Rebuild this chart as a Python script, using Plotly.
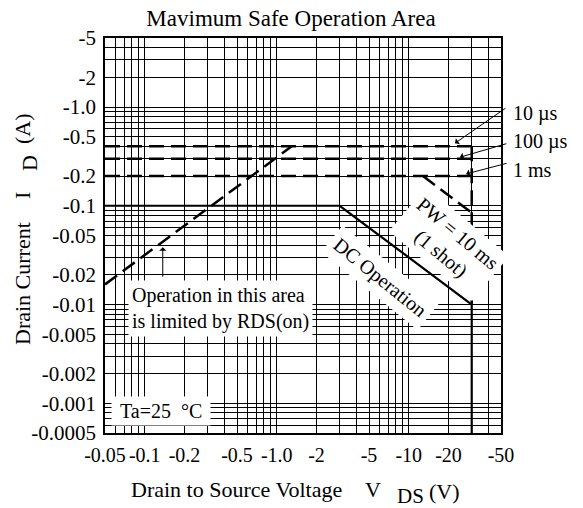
import numpy as np
import plotly.graph_objects as go

# ---- data ----
x_labels = ["-0.05", "-0.1", "-0.2", "-0.5", "-1.0", "-2", "-5", "-10", "-20", "-50"]
x_label_vals = [0.05, 0.1, 0.2, 0.5, 1.0, 2, 5, 10, 20, 50]
y_labels = ["-5", "-2", "-1.0", "-0.5", "-0.2", "-0.1", "-0.05", "-0.02", "-0.01",
            "-0.005", "-0.002", "-0.001", "-0.0005"]
y_label_vals = [5, 2, 1.0, 0.5, 0.2, 0.1, 0.05, 0.02, 0.01, 0.005, 0.002, 0.001, 0.0005]

dc_x = [0.05, 3.0, 30, 30]
dc_y = [0.1, 0.1, 0.01, 0.0005]

pulse_names = ["10 µs", "100 µs", "1 ms"]
pulse_levels = [0.4, 0.3, 0.2]
pulse_x = [0.05, 30]

vert_x = [30, 30]
vert_y = [0.4, 0.01]

pw10_x = [12.8, 30]
pw10_y = [0.2, 0.085]

rds_x = [0.05, 1.3]
rds_y = [0.016, 0.4]

# grid values: 1..9 per decade
def grid(lo, hi):
    vals = []
    for e in range(-5, 3):
        for m in range(1, 10):
            v = m * 10.0 ** e
            if lo * 0.999 <= v <= hi * 1.001:
                vals.append(float(f"{v:.6g}"))
    return vals

xg = grid(0.05, 50)
yg = grid(0.0005, 5)

def lab(vals, lv, ll):
    out = []
    for v in vals:
        t = ""
        for a, b in zip(lv, ll):
            if abs(v - a) / a < 1e-6:
                t = b
        out.append(t)
    return out

FONT = "Liberation Serif"
FS = 20
W, H = 583, 508
PL, PR, PT, PB = 105, 501, 38, 433

def px(xp):
    return (xp - PL) / (PR - PL)

def py(yp):
    return (PB - yp) / (PB - PT)

fig = go.Figure()

dash = "15px,7px"
for lvl in pulse_levels:
    fig.add_trace(go.Scatter(x=pulse_x, y=[lvl, lvl], mode="lines",
                             line=dict(color="black", width=2.5, dash=dash),
                             showlegend=False, hoverinfo="skip"))
fig.add_trace(go.Scatter(x=vert_x, y=vert_y, mode="lines",
                         line=dict(color="black", width=2.5, dash=dash),
                         showlegend=False, hoverinfo="skip"))
fig.add_trace(go.Scatter(x=pw10_x, y=pw10_y, mode="lines",
                         line=dict(color="black", width=2.5, dash=dash),
                         showlegend=False, hoverinfo="skip"))
fig.add_trace(go.Scatter(x=rds_x, y=rds_y, mode="lines",
                         line=dict(color="black", width=2.5, dash=dash),
                         showlegend=False, hoverinfo="skip"))
fig.add_trace(go.Scatter(x=dc_x, y=dc_y, mode="lines",
                         line=dict(color="black", width=2.2),
                         showlegend=False, hoverinfo="skip"))

ann = []
def L(v):
    return float(np.log10(v))

def txt(x, y, s, size=FS, xa="center", ya="middle", angle=0, **kw):
    d = dict(xref="paper", yref="paper", x=px(x), y=py(y), xanchor=xa, yanchor=ya,
             text=s, showarrow=False, textangle=angle,
             font=dict(family=FONT, size=size, color="black"))
    d.update(kw)
    ann.append(d)

# white boxed labels
txt(128, 308, "Operation in this area<br>is limited by RDS(on)", xa="left",
    align="left", bgcolor="white", borderpad=3)
txt(161, 411, "&nbsp;Ta=25&nbsp; °C&nbsp;", bgcolor="white", borderpad=3)
txt(380, 277, "DC Operation", angle=39, bgcolor="white", borderpad=5)
txt(449, 243, "PW = 10 ms<br>(1 shot)", angle=40, bgcolor="white", borderpad=4)

# right labels and arrows
label_y = [113, 141, 170]
heads = [(22.4, 0.43, 52, -36), (24.4, 0.31, 48, -14), (27.2, 0.21, 42, -11)]
for name, yy, (hx, hy, axp, ayp) in zip(pulse_names, label_y, heads):
    txt(511, yy, name, xa="left")
    ann.append(dict(x=L(hx), y=L(hy), xref="x", yref="y", text="", showarrow=True,
                    ax=axp, ay=ayp, arrowhead=1, arrowsize=1.2, arrowwidth=1,
                    arrowcolor="black", standoff=0))

# RDS arrow
ann.append(dict(x=L(0.137), y=L(0.038), xref="x", yref="y", text="", showarrow=True,
                ax=0, ay=31, arrowhead=1, arrowsize=1.2, arrowwidth=1,
                arrowcolor="black", standoff=0))

# axis titles (pieces, to reproduce the spaced subscript layout)
TS = 22
txt(22, 284, "Drain Current", size=TS, angle=-90)
txt(22, 196, "I", size=TS, angle=-90)
txt(29, 163, "D", size=TS, angle=-90)
txt(22, 129, "(A)", size=TS, angle=-90)

txt(129, 490, "Drain to Source Voltage", size=TS, xa="left")
txt(363, 489, "V", size=TS, xa="left")
txt(395, 496, "DS", size=21, xa="left")
txt(427, 492, "(V)", size=TS, xa="left")

fig.update_layout(
    width=W, height=H,
    margin=dict(l=PL, r=W - PR, t=PT, b=H - PB),
    paper_bgcolor="white", plot_bgcolor="white",
    title=dict(text="Mavimum Safe Operation Area", x=291 / W, xanchor="center",
               y=1 - 18 / H, yanchor="middle",
               font=dict(family=FONT, size=23, color="black")),
    annotations=ann,
    showlegend=False,
)
fig.update_xaxes(type="log", range=[L(0.05), L(50)], tickvals=xg,
                 ticktext=lab(xg, x_label_vals, x_labels),
                 showgrid=True, gridcolor="black", gridwidth=1,
                 showline=True, linecolor="black", linewidth=1.5, mirror=True,
                 ticks="", zeroline=False, automargin=False, tickangle=0,
                 ticklabelstandoff=3,
                 tickfont=dict(family=FONT, size=20, color="black"))
fig.update_yaxes(type="log", range=[L(0.0005), L(5)], tickvals=yg,
                 ticktext=lab(yg, y_label_vals, y_labels),
                 showgrid=True, gridcolor="black", gridwidth=1,
                 showline=True, linecolor="black", linewidth=1.5, mirror=True,
                 ticks="", zeroline=False, automargin=False, ticklabelstandoff=3,
                 tickfont=dict(family=FONT, size=21, color="black"))

fig.write_html("out.html", config={"displayModeBar": False},
               post_script="document.body.style.margin='0';")
